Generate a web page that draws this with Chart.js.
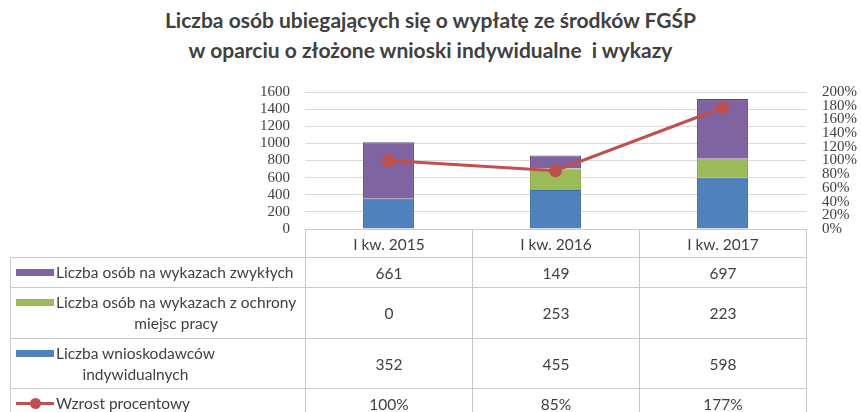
<!DOCTYPE html>
<html lang="pl">
<head>
<meta charset="UTF-8">
<title>Liczba osób ubiegających się o wypłatę ze środków FGŚP</title>
<script src="https://cdn.jsdelivr.net/npm/chart.js"></script>
<style>
  body { margin: 0; background: #fff; }
  .wrap { position: relative; width: 861px; height: 412px; overflow: hidden; font-family: Lato, "Open Sans", sans-serif; }
  .title {
    position: absolute; left: 0; top: 5px; width: 861px;
    text-align: center; font-size: 21px; font-weight: 700; color: #404040; line-height: 30px;
  }
  #chart { position: absolute; left: 0; top: 0; }
  table.data {
    position: absolute; left: 10px; border-collapse: collapse; table-layout: fixed;
    font-size: 15.5px; color: #404040;
  }
  table.data td { border: 1px solid #c9c9c9; padding: 0; text-align: center; vertical-align: middle; }
  table.data td.blank { border: none; }
  table.data td.lbl { text-align: left; }
  .lab { display: flex; align-items: flex-start; }
  .sw { flex: none; width: 38px; height: 7px; margin: 7px 2px 0 5px; }
  .sw.line { height: 3px; margin-top: 9px; background: #c0504d; position: relative; }
  .sw.line:after {
    content: ""; position: absolute; left: 14px; top: -4px; width: 11px; height: 11px;
    border-radius: 50%; background: #c0504d;
  }
  .txt { display: inline-block; text-align: center; line-height: 21px; }
</style>
</head>
<body>
<div class="wrap">
  <div class="title">Liczba osób ubiegających się o wypłatę ze środków FGŚP<br>w oparciu o złożone wnioski indywidualne &nbsp;i wykazy</div>
  <canvas id="chart" width="861" height="412"></canvas>
  <table class="data" id="tbl"></table>
</div>
<script>
const categories = ['I kw. 2015', 'I kw. 2016', 'I kw. 2017'];
const zwykle = [661, 149, 697];
const ochrona = [0, 253, 223];
const wnioskodawcy = [352, 455, 598];
const wzrost = [100, 85, 177];

const leftTicks = [0, 200, 400, 600, 800, 1000, 1200, 1400, 1600];

const ctx = document.getElementById('chart').getContext('2d');
const chart = new Chart(ctx, {
  type: 'bar',
  data: {
    labels: categories,
    datasets: [
      { type: 'line', label: 'Wzrost procentowy', data: wzrost, yAxisID: 'y1', order: 0,
        borderColor: '#c0504d', backgroundColor: '#c0504d', borderWidth: 3,
        pointRadius: 5, pointBackgroundColor: '#c0504d', pointBorderColor: '#c0504d', tension: 0 },
      { label: 'Liczba wnioskodawców indywidualnych', data: wnioskodawcy, order: 1,
        backgroundColor: '#4f81bd', borderColor: '#3a6aa3', borderWidth: 1 },
      { label: 'Liczba osób na wykazach z ochrony miejsc pracy', data: ochrona, order: 1,
        backgroundColor: '#9bbb59', borderColor: '#86a548', borderWidth: 1 },
      { label: 'Liczba osób na wykazach zwykłych', data: zwykle, order: 1,
        backgroundColor: '#8064a2', borderColor: '#5f4a7d', borderWidth: 1 }
    ]
  },
  options: {
    responsive: false,
    animation: false,
    barPercentage: 1,
    categoryPercentage: 0.305,
    layout: { padding: { left: 0, right: 0, top: 92, bottom: 183 } },
    plugins: { legend: { display: false }, tooltip: { enabled: false }, title: { display: false } },
    scales: {
      x: { stacked: true, display: false },
      y: {
        stacked: true, min: 0, max: 1600,
        afterFit: s => { s.width = 305; },
        afterBuildTicks: s => { s.ticks = leftTicks.map(v => ({ value: v })); },
        border: { display: false },
        grid: { color: '#d9d9d9', drawTicks: false },
        ticks: { autoSkip: false, padding: 15, color: '#404040',
          font: { family: 'Liberation Serif', size: 15 },
          callback: v => String(v) }
      },
      y1: {
        position: 'right', min: 0, max: 200,
        afterFit: s => { s.width = 55; },
        border: { display: false },
        grid: { display: false, drawTicks: false },
        ticks: { autoSkip: false, stepSize: 20, padding: 16, color: '#404040',
          font: { family: 'Liberation Serif', size: 15 },
          callback: v => v + '%' }
      }
    }
  }
});

// data table under the plot, columns follow the x scale
const area = chart.chartArea;
const colW = area.width / categories.length;
const tbl = document.getElementById('tbl');
tbl.style.top = Math.round(area.bottom) + 'px';

const rows = [
  { name: 'Liczba osób na wykazach zwykłych', color: '#8064a2', values: zwykle, h: 30 },
  { name: 'Liczba osób na wykazach z ochrony<br>miejsc pracy', color: '#9bbb59', values: ochrona, h: 51 },
  { name: 'Liczba wnioskodawców<br>indywidualnych', color: '#4f81bd', values: wnioskodawcy, h: 50 },
  { name: 'Wzrost procentowy', line: true, values: wzrost.map(v => v + '%'), h: 30 }
];

let html = '<colgroup><col style="width:' + (area.left - 10) + 'px">';
categories.forEach(() => { html += '<col style="width:' + colW + 'px">'; });
html += '</colgroup>';
html += '<tr style="height:28px"><td class="blank"></td>';
categories.forEach(c => { html += '<td>' + c + '</td>'; });
html += '</tr>';
rows.forEach(r => {
  const sw = r.line ? '<span class="sw line"></span>' : '<span class="sw" style="background:' + r.color + '"></span>';
  html += '<tr style="height:' + r.h + 'px"><td class="lbl"><div class="lab">' + sw +
    '<span class="txt">' + r.name + '</span></div></td>';
  r.values.forEach(v => { html += '<td>' + v + '</td>'; });
  html += '</tr>';
});
tbl.innerHTML = html;
</script>
</body>
</html>
